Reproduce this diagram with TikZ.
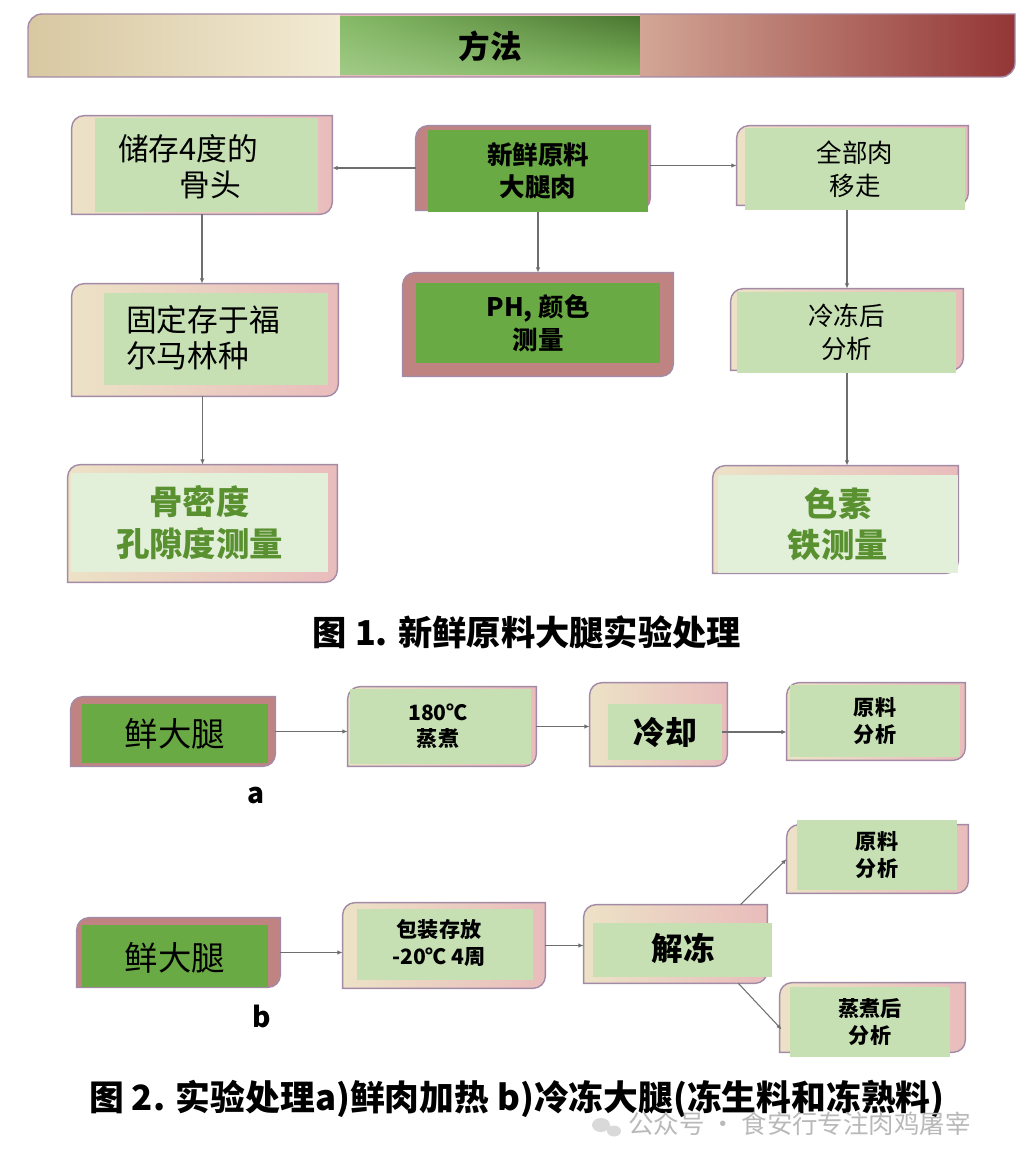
\documentclass[tikz,border=0pt]{standalone}
\usepackage{fontspec}
\setmainfont{Noto Sans CJK SC}
\usepackage{xcolor}
\definecolor{FrameLine}{HTML}{A38AA6}
\definecolor{FrameBeige}{HTML}{ECE2C6}
\definecolor{FramePink}{HTML}{E9BCBC}
\definecolor{HamRose}{HTML}{BF8482}
\definecolor{LeafGreen}{HTML}{C6E0B4}
\definecolor{MeatGreen}{HTML}{6AAA45}
\definecolor{PaleGreen}{HTML}{E2EFD9}
\definecolor{InkGreen}{HTML}{5A9130}
\definecolor{LinkGrey}{HTML}{6E6E6E}
\definecolor{BarSand}{HTML}{D8C8A2}
\definecolor{BarCream}{HTML}{F2EAD3}
\definecolor{BarBlush}{HTML}{D2A696}
\definecolor{BarWine}{HTML}{933636}
\usepackage{tikz}
\usetikzlibrary{calc,fit,arrows.meta,shadings}
% frame with two rounded corners, named by #1
\newcommand{\hamframe}[3]{%
  \node[inner sep=0pt, fit={#3}] (#1) {};
  \path[#2] (#1.west) [rounded corners=7pt] -- (#1.north west) [sharp corners] -- (#1.north east)
    [rounded corners=7pt] -- (#1.south east) [sharp corners] -- (#1.south west) -- cycle;}

\begin{document}
\begin{tikzpicture}[x=0.02cm, y=-0.02cm,
  every node/.style={align=center, text=black},
  beige/.style={draw=FrameLine, line width=0.8pt, left color=FrameBeige, right color=FramePink},
  rose/.style={draw=FrameLine, line width=0.8pt, fill=HamRose},
  leaf/.style={fill=LeafGreen, inner sep=0pt},
  meat/.style={fill=MeatGreen, inner sep=0pt},
  pale/.style={fill=PaleGreen, inner sep=0pt},
  ink/.style={text=InkGreen, font=\fontsize{19}{23.5}\selectfont\bfseries},
  txtS/.style={font=\fontsize{12}{15}\selectfont\bfseries},
  txtM/.style={font=\fontsize{14.5}{18.5}\selectfont},
  txtMB/.style={font=\fontsize{14.5}{18.5}\selectfont\bfseries},
  txtL/.style={font=\fontsize{17.5}{20.5}\selectfont},
  txtXL/.style={font=\fontsize{19}{22}\selectfont},
  txtB/.style={font=\fontsize{18}{22}\selectfont\bfseries},
  link/.style={draw=LinkGrey, line width=0.6pt, -{Latex[length=3pt,width=2.5pt]}}]
  \useasboundingbox (0,0) rectangle (1031,1159);

  % title bar
  \begin{scope}
    \path[clip] (28,45) [rounded corners=8pt] -- (28,14) [sharp corners] -- (1015,14)
      [rounded corners=8pt] -- (1015,77) [sharp corners] -- (28,77) -- cycle;
    \shade[left color=BarSand, right color=BarCream] (28,14) rectangle (340,77);
    \fill[FramePink] (340,14) rectangle (640,77);
    \shade[upper left=MeatGreen!70!LeafGreen, upper right=MeatGreen!70!black,
      lower left=LeafGreen!60!MeatGreen, lower right=MeatGreen!80!LeafGreen] (340,17) rectangle (640,75);
    \shade[left color=BarBlush, right color=BarWine] (640,14) rectangle (1015,77);
  \end{scope}
  \draw[FrameLine, line width=0.8pt] (28,45) [rounded corners=8pt] -- (28,14) [sharp corners] -- (1015,14)
    [rounded corners=8pt] -- (1015,77) [sharp corners] -- (28,77) -- cycle;
  \node[txtB] (title) at (490,46) {方法};

  % figure 1
  \hamframe{store}{beige}{(72,116)(332,214)}
  \node[leaf, fit={(95,118)(318,212)}] (storein) {};
  \node[txtL, align=left, anchor=west] (storetxt) at (112,167) {储存4度的\\\hspace*{2em}骨头};
  \hamframe{fresh}{rose}{(416,126)(650,210)}
  \node[meat, fit={(428,130)(648,212)}] (freshin) {};
  \node[txtMB] (freshtxt) at (freshin) {新鲜原料\\大腿肉};
  \hamframe{whole}{beige}{(737,126)(968,205)}
  \node[leaf, fit={(745,128)(965,210)}] (wholein) {};
  \node[txtM] (wholetxt) at (wholein) {全部肉\\移走};
  \hamframe{ph}{rose}{(403,273)(673,376)}
  \node[meat, fit={(416,283)(660,363)}] (phin) {};
  \node[txtMB] (phtxt) at (phin) {PH, 颜色\\测量};
  \hamframe{fix}{beige}{(72,284)(338,396)}
  \node[leaf, fit={(104,293)(328,385)}] (fixin) {};
  \node[txtL, align=left, anchor=west] (fixtxt) at (120,338) {固定存于福\\尔马林种};
  \hamframe{frozen}{beige}{(731,289)(963,370)}
  \node[leaf, fit={(737,292)(956,373)}] (frozenin) {};
  \node[txtM] (frozentxt) at (frozenin) {冷冻后\\分析};
  \hamframe{bone}{beige}{(68,465)(337,582)}
  \node[pale, fit={(71,473)(328,572)}] (bonein) {};
  \node[ink] (bonetxt) at (bonein) {骨密度\\孔隙度测量};
  \hamframe{pigment}{beige}{(713,466)(958,573)}
  \node[pale, fit={(718,475)(958,573)}] (pigmentin) {};
  \node[ink] (pigmenttxt) at (pigmentin) {色素\\铁测量};

  \draw[link] (fresh.west) -- (fresh.west -| store.east);
  \draw[link] (whole.west -| fresh.east) -- (whole.west);
  \draw[link] (freshin.south) -- (ph.north);
  \draw[link] (store.south) -- (store.south |- fix.north);
  \draw[link] (bone.north |- fix.south) -- (bone.north);
  \draw[link] (wholein.south -| frozen.north) -- (frozen.north);
  \draw[link] (frozenin.south -| frozen.south) -- (frozen.south |- pigment.north);

  \node[font=\fontsize{19.5}{22}\selectfont\bfseries] (capone) at (527,632) {图 1. 新鲜原料大腿实验处理};

  % figure 2a
  \hamframe{hamA}{rose}{(71,697)(275,766)}
  \node[meat, fit={(82,704)(268,763)}] (hamAin) {};
  \node[txtXL] (hamAtxt) at (hamAin) {鲜大腿};
  \hamframe{cookA}{beige}{(348,687)(536,766)}
  \node[leaf, fit={(350,689)(531,764)}] (cookAin) {};
  \node[txtS] (cookAtxt) at (438,726) {180℃\\蒸煮};
  \hamframe{coolA}{beige}{(590,683)(727,766)}
  \node[leaf, fit={(608,704)(722,760)}] (coolAin) {};
  \node[txtB] (coolAtxt) at (coolAin) {冷却};
  \hamframe{rawA}{beige}{(787,683)(965,760)}
  \node[leaf, fit={(790,685)(960,757)}] (rawAin) {};
  \node[txtS] (rawAtxt) at (rawAin) {原料\\分析};

  \draw[link] (hamA.east) -- (hamA.east -| cookA.west);
  \draw[link] (cookA.east) -- (cookA.east -| coolA.west);
  \draw[link] (coolAin.east) -- (coolAin.east -| rawA.west);
  \node[font=\fontsize{16}{18}\selectfont\bfseries] (laba) at (256,795) {a};

  % figure 2b
  \hamframe{hamB}{rose}{(77,918)(280,987)}
  \node[meat, fit={(82,925)(268,987)}] (hamBin) {};
  \node[txtXL] (hamBtxt) at (175,958) {鲜大腿};
  \hamframe{packB}{beige}{(343,903)(545,988)}
  \node[leaf, fit={(357,909)(533,980)}] (packBin) {};
  \node[txtS] (packBtxt) at (439,943) {包装存放\\-20℃ 4周};
  \hamframe{thawB}{beige}{(584,905)(767,983)}
  \node[leaf, fit={(593,923)(772,977)}] (thawBin) {};
  \node[txtB] (thawBtxt) at (683,948) {解冻};
  \hamframe{rawB}{beige}{(787,825)(968,893)}
  \node[leaf, fit={(797,820)(957,890)}] (rawBin) {};
  \node[txtS] (rawBtxt) at (rawBin) {原料\\分析};
  \hamframe{cookB}{beige}{(780,983)(965,1052)}
  \node[leaf, fit={(790,987)(950,1057)}] (cookBin) {};
  \node[txtS] (cookBtxt) at (cookBin) {蒸煮后\\分析};

  \draw[link] (hamB.east) -- (hamB.east -| packB.west);
  \draw[link] (packB.east) -- (packB.east -| thawB.west);
  \draw[link] ($(thawB.north east)+(-27,0)$) -- (rawB.west);
  \draw[link] ($(thawB.south east)+(-29,0)$) -- ($(cookB.west)+(2,12)$);
  \node[font=\fontsize{16}{18}\selectfont\bfseries] (labb) at (262,1016) {b};

  \node[font=\fontsize{19.8}{22}\selectfont\bfseries, anchor=west] (captwo) at (83,1099)
    {图 2. 实验处理a)鲜肉加热 b)冷冻大腿(冻生料和冻熟料)};
  % watermark
  \fill[gray!30] (601,1125) ellipse (9 and 7) (614,1131) ellipse (7 and 5.5);
  \node[text=gray!55, font=\fontsize{14.5}{17}\selectfont, anchor=west] (mark) at (622,1124)
    {公众号 · 食安行专注肉鸡屠宰};
\end{tikzpicture}
\end{document}
